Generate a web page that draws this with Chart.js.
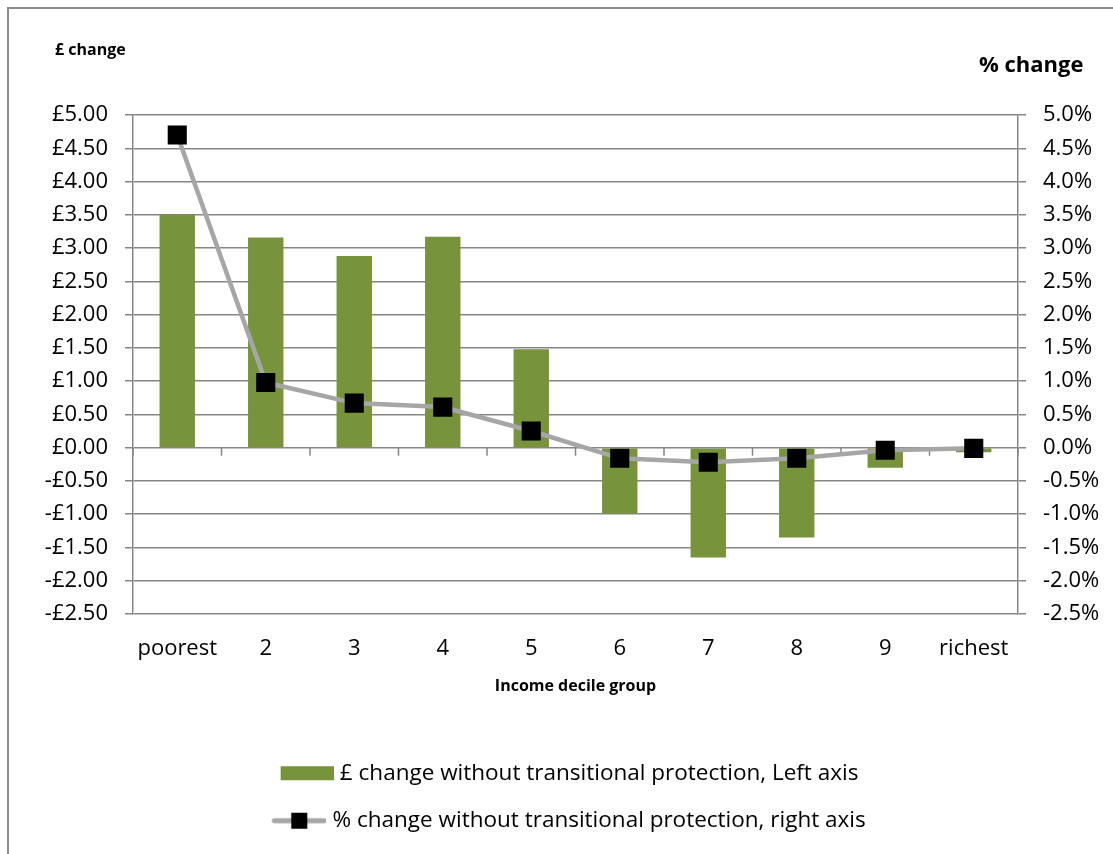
<!DOCTYPE html>
<html>
<head>
<meta charset="utf-8">
<script src="https://cdn.jsdelivr.net/npm/chart.js@4.4.0/dist/chart.umd.min.js"></script>
<style>
  html, body { margin: 0; padding: 0; background: #fff; overflow: hidden; }
  #wrap { position: relative; width: 1113px; height: 854px; }
  #frame { position: absolute; left: 7px; top: 7px; width: 1300px; height: 1000px; border: 2px solid #8c8c8c; box-sizing: border-box; }
  #grafico { position: absolute; left: 0; top: 0; }
  .asse { position: absolute; font-family: "Open Sans", Lato, sans-serif; font-weight: bold; color: #000; }
</style>
</head>
<body>
<div id="wrap">
  <div id="frame"></div>
  <canvas id="grafico" width="1113" height="854"></canvas>
  <div class="asse" style="left:55px; top:38px; font-size:16px;">£ change</div>
  <div class="asse" style="left:979px; top:48px; font-size:22px;">% change</div>
</div>
<script>
// dati
const decili = ['poorest', '2', '3', '4', '5', '6', '7', '8', '9', 'richest'];
const cambioSterline = [3.50, 3.16, 2.88, 3.17, 1.48, -0.99, -1.65, -1.35, -0.30, -0.07];
const cambioPercento = [4.70, 0.98, 0.67, 0.61, 0.25, -0.16, -0.22, -0.16, -0.04, -0.01];
const etichetteSerie = [
  '£ change without transitional protection, Left axis',
  '% change without transitional protection, right axis'
];

const verde = '#77933C';
const grigioLinea = '#A6A6A6';
const grigioAssi = '#868686';
const font = '"Open Sans", Lato, sans-serif';

// icone della legenda disegnate su canvas (spostate a destra per avvicinarle al testo)
function iconaBarra() {
  let c = document.createElement('canvas');
  c.width = 64; c.height = 16;
  let g = c.getContext('2d');
  g.fillStyle = verde;
  g.fillRect(11, 1, 53, 14);
  return c;
}
function iconaLinea() {
  let c = document.createElement('canvas');
  c.width = 64; c.height = 18;
  let g = c.getContext('2d');
  g.strokeStyle = grigioLinea;
  g.lineWidth = 5;
  g.lineCap = 'round';
  g.beginPath(); g.moveTo(12, 9); g.lineTo(62, 9); g.stroke();
  g.fillStyle = '#000';
  g.fillRect(29, 1, 16, 16);
  return c;
}
const icone = [iconaBarra(), iconaLinea()];

// tacche dell'asse orizzontale sulla linea dello zero
const tacche = {
  id: 'tacche',
  beforeDatasetsDraw(chart) {
    let x = chart.scales.x, y = chart.scales.y;
    let ctx = chart.ctx;
    let y0 = y.getPixelForValue(0);
    let passo = (x.right - x.left) / decili.length;
    ctx.save();
    ctx.strokeStyle = grigioAssi;
    ctx.lineWidth = 1.5;
    ctx.beginPath();
    for (let i = 0; i <= decili.length; i++) {
      let px = x.left + i * passo;
      ctx.moveTo(px, y0);
      ctx.lineTo(px, y0 + 8);
    }
    ctx.stroke();
    ctx.restore();
  }
};

function sterline(v) {
  let s = Math.abs(v).toFixed(2);
  return (v < -0.001 ? '-£' : '£') + s;
}
function percento(v) {
  let r = Math.round(v * 10) / 10;
  return (r === 0 ? '0.0' : r.toFixed(1)) + '%';
}

const ctx = document.getElementById('grafico').getContext('2d');
const myChart = new Chart(ctx, {
  type: 'bar',
  data: {
    labels: decili,
    datasets: [
      {
        type: 'bar',
        label: etichetteSerie[0],
        data: cambioSterline,
        backgroundColor: verde,
        borderWidth: 0,
        barPercentage: 0.4,
        categoryPercentage: 1,
        yAxisID: 'y',
        order: 2
      },
      {
        type: 'line',
        label: etichetteSerie[1],
        data: cambioPercento,
        borderColor: grigioLinea,
        borderWidth: 4.5,
        tension: 0,
        pointStyle: 'rect',
        pointRadius: 13.5,
        pointHoverRadius: 13.5,
        pointBackgroundColor: '#000',
        pointBorderColor: '#000',
        pointBorderWidth: 0,
        yAxisID: 'y1',
        order: 1
      }
    ]
  },
  options: {
    responsive: false,
    animation: false,
    layout: { padding: { left: 20, right: 0, top: 115, bottom: 12 } },
    scales: {
      x: {
        offset: true,
        grid: { display: false },
        border: { display: false },
        ticks: { color: '#000', font: { family: font, size: 22 }, padding: 14, maxRotation: 0 },
        title: {
          display: true,
          text: 'Income decile group',
          color: '#000',
          font: { family: font, size: 16, weight: 'bold' },
          padding: { top: 0, bottom: 41 }
        },
        afterFit: function (s) { s.height = 123; }
      },
      y: {
        position: 'left',
        min: -2.5, max: 5,
        ticks: { stepSize: 0.5, color: '#000', font: { family: font, size: 22 }, padding: 17, callback: sterline },
        grid: { color: grigioAssi, lineWidth: 1.5, tickLength: 8 },
        border: { color: grigioAssi, width: 1.5 },
        afterFit: function (s) { s.width = 113; }
      },
      y1: {
        position: 'right',
        min: -2.5, max: 5,
        ticks: { stepSize: 0.5, color: '#000', font: { family: font, size: 22 }, padding: 17, callback: percento },
        grid: { drawOnChartArea: false, color: grigioAssi, lineWidth: 1.5, tickLength: 8 },
        border: { color: grigioAssi, width: 1.5 },
        afterFit: function (s) { s.width = 95; }
      }
    },
    plugins: {
      tooltip: { enabled: false },
      legend: {
        position: 'bottom',
        labels: {
          color: '#000',
          font: { family: font, size: 22.5 },
          usePointStyle: true,
          pointStyleWidth: 54,
          padding: 25,
          sort: function (a, b) { return a.datasetIndex - b.datasetIndex; },
          generateLabels: function (chart) {
            let items = Chart.defaults.plugins.legend.labels.generateLabels(chart);
            items.forEach(function (it) { it.pointStyle = icone[it.datasetIndex]; });
            return items;
          }
        }
      }
    }
  },
  plugins: [tacche]
});
</script>
</body>
</html>
